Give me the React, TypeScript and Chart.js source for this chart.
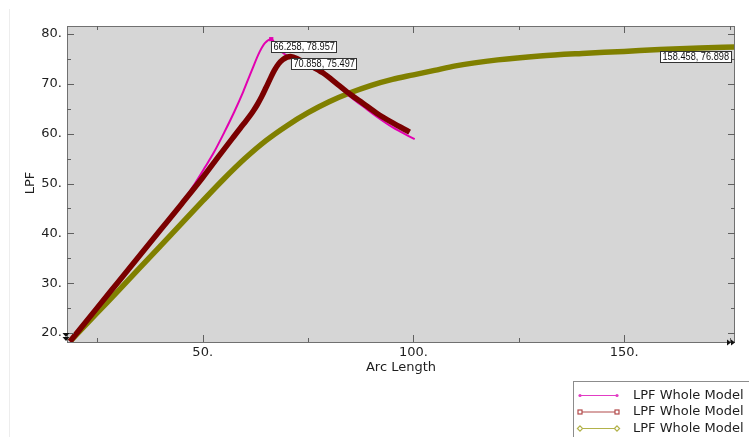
import { useEffect, useRef } from "react";
import { Chart, registerables } from "chart.js";

Chart.register(...registerables);

// ---------- data ----------
const seriesLabels = ["LPF Whole Model", "LPF Whole Model", "LPF Whole Model"];

const magentaX = [18.5, 25, 30, 35, 40, 45, 48, 50.5, 52.5, 55.2, 57.5, 59.6, 61.6, 63.5, 64.8, 66.258, 68, 70, 72.5, 75.5, 78.5, 82, 85, 88, 91.3, 95, 100.3];
const magentaY = [18.3, 25.1, 30.3, 35.5, 40.7, 46.0, 49.8, 53.2, 56.0, 60.4, 64.4, 68.4, 72.6, 76.4, 78.2, 78.957, 77.0, 75.6, 74.6, 73.3, 72.0, 69.7, 67.4, 65.5, 63.4, 61.3, 58.9];

const darkRedX = [18.5, 25, 30, 35, 40, 45, 50, 54, 57, 59, 60, 61, 62, 63, 64, 65, 66, 67, 68, 69, 70, 70.858, 73, 75.5, 78.5, 82, 85, 88, 91.3, 95, 99.1];
const darkRedY = [18.3, 25.1, 30.3, 35.5, 40.7, 45.9, 51.2, 55.7, 59.0, 61.2, 62.25, 63.35, 64.55, 65.9, 67.45, 69.2, 71.0, 72.7, 74.0, 74.85, 75.35, 75.497, 74.8, 73.7, 72.2, 69.9, 67.9, 66.1, 64.1, 62.2, 60.3];

const oliveX = [18.5, 25, 30, 35, 40, 45, 50, 55, 60, 65, 70, 75, 80, 85, 90, 95, 100, 105, 110, 120, 130, 140, 150, 158.458, 168, 176.3];
const oliveY = [18.3, 24.1, 28.5, 33.0, 37.5, 42.0, 46.5, 50.9, 55.0, 58.6, 61.6, 64.2, 66.4, 68.2, 69.7, 70.9, 71.8, 72.7, 73.6, 74.8, 75.6, 76.1, 76.5, 76.898, 77.2, 77.4];

const annotX = [66.258, 70.858, 158.458];
const annotY = [78.957, 75.497, 76.898];

const xMajorTicks = [50, 100, 150];
const xMinorTicks = [25, 75, 125, 175];
const yMajorTicks = [20, 30, 40, 50, 60, 70, 80];
const yMinorTicks = [25, 35, 45, 55, 65, 75];

const X_MIN = 17.8;
const X_MAX = 176.3;
const Y_MIN = 18.2;
const Y_MAX = 81.6;

const toPoints = (xs: number[], ys: number[]) => xs.map((x, i) => ({ x, y: ys[i] }));

const fmtNum = (v: number) => `${v}.`;

const decorPlugin = {
  id: "decor",
  beforeDraw(chart: any) {
    const { ctx, chartArea: a, width, height } = chart;
    ctx.save();
    ctx.fillStyle = "#ffffff";
    ctx.fillRect(0, 0, width, height);
    ctx.strokeStyle = "#ededed";
    ctx.lineWidth = 1;
    ctx.beginPath();
    ctx.moveTo(9.5, 9);
    ctx.lineTo(9.5, height);
    ctx.stroke();
    ctx.fillStyle = "#d6d6d6";
    ctx.fillRect(a.left, a.top, a.right - a.left, a.bottom - a.top);
    ctx.restore();
  },
  afterDatasetsDraw(chart: any) {
    const { ctx, chartArea: a } = chart;
    const xs = chart.scales.x;
    const ys = chart.scales.y;
    ctx.save();
    // frame
    ctx.strokeStyle = "#707070";
    ctx.lineWidth = 1;
    ctx.strokeRect(a.left + 0.5, a.top + 0.5, a.right - a.left - 1, a.bottom - a.top);
    // ticks
    ctx.strokeStyle = "#606060";
    ctx.beginPath();
    const xt = (v: number, len: number) => {
      const p = Math.round(xs.getPixelForValue(v)) + 0.5;
      ctx.moveTo(p, a.bottom);
      ctx.lineTo(p, a.bottom - len);
      ctx.moveTo(p, a.top);
      ctx.lineTo(p, a.top + len);
    };
    const yt = (v: number, len: number) => {
      const p = Math.round(ys.getPixelForValue(v)) + 0.5;
      ctx.moveTo(a.left, p);
      ctx.lineTo(a.left + len, p);
      ctx.moveTo(a.right, p);
      ctx.lineTo(a.right - len, p);
    };
    xMajorTicks.forEach((v) => xt(v, 7));
    xMinorTicks.forEach((v) => xt(v, 4));
    yMajorTicks.forEach((v) => yt(v, 7));
    yMinorTicks.forEach((v) => yt(v, 4));
    ctx.stroke();

    // axis end arrows
    ctx.fillStyle = "#111111";
    const tri = (pts: number[][]) => {
      ctx.beginPath();
      ctx.moveTo(pts[0][0], pts[0][1]);
      ctx.lineTo(pts[1][0], pts[1][1]);
      ctx.lineTo(pts[2][0], pts[2][1]);
      ctx.closePath();
      ctx.fill();
    };
    const lx = a.left - 1;
    tri([[lx - 3.5, a.bottom - 9], [lx + 3.5, a.bottom - 9], [lx, a.bottom - 5]]);
    tri([[lx - 3.5, a.bottom - 5], [lx + 3.5, a.bottom - 5], [lx, a.bottom - 1]]);
    const by = a.bottom + 0.5;
    tri([[a.right - 8, by - 3], [a.right - 8, by + 3], [a.right - 4, by]]);
    tri([[a.right - 4, by - 3], [a.right - 4, by + 3], [a.right, by]]);

    // annotations
    const sx = 0.92;
    ctx.font = "10px 'Liberation Sans', Arial, sans-serif";
    ctx.textBaseline = "middle";
    ctx.textAlign = "left";
    annotX.forEach((vx, i) => {
      const t = `${vx}, ${annotY[i]}`;
      const px = xs.getPixelForValue(vx);
      const py = ys.getPixelForValue(annotY[i]);
      const w = Math.round(ctx.measureText(t).width * sx + 4);
      const bx = Math.round(px) + 0.5;
      const byy = Math.round(py + 1.5) + 0.5;
      ctx.fillStyle = "#ffffff";
      ctx.fillRect(bx, byy, w, 11);
      ctx.strokeStyle = "#333333";
      ctx.strokeRect(bx, byy, w, 11);
      ctx.save();
      ctx.translate(bx + 2, byy + 6);
      ctx.scale(sx, 1);
      ctx.fillStyle = "#111111";
      ctx.fillText(t, 0, 0);
      ctx.restore();
    });

    // axis titles
    ctx.fillStyle = "#1e1e1e";
    ctx.font = "13px 'DejaVu Sans', sans-serif";
    ctx.textAlign = "center";
    ctx.textBaseline = "alphabetic";
    ctx.fillText("Arc Length", (a.left + a.right) / 2, 370.5);
    ctx.save();
    ctx.translate(33.5, (a.top + a.bottom) / 2 - 1);
    ctx.rotate(-Math.PI / 2);
    ctx.fillText("LPF", 0, 0);
    ctx.restore();

    // legend
    ctx.strokeStyle = "#8c8c8c";
    ctx.lineWidth = 1;
    ctx.strokeRect(573.5, 381.5, 220, 80);
    const legendColors = ["#e23cc4", "#b24a4a", "#b2b24a"];
    const legendY = [395, 411.5, 428];
    legendColors.forEach((c, i) => {
      const y = legendY[i] + 0.5;
      ctx.strokeStyle = c;
      ctx.lineWidth = 1.2;
      ctx.beginPath();
      ctx.moveTo(580, y);
      ctx.lineTo(617, y);
      ctx.stroke();
      [580, 617].forEach((mx) => {
        if (i === 0) {
          ctx.fillStyle = c;
          ctx.beginPath();
          ctx.arc(mx, y, 1.6, 0, Math.PI * 2);
          ctx.fill();
        } else if (i === 1) {
          ctx.fillStyle = "#ffffff";
          ctx.fillRect(mx - 2, y - 2, 4, 4);
          ctx.strokeRect(mx - 2, y - 2, 4, 4);
        } else {
          ctx.fillStyle = "#ffffff";
          ctx.beginPath();
          ctx.moveTo(mx, y - 2.6);
          ctx.lineTo(mx + 2.6, y);
          ctx.lineTo(mx, y + 2.6);
          ctx.lineTo(mx - 2.6, y);
          ctx.closePath();
          ctx.fill();
          ctx.stroke();
        }
      });
      ctx.fillStyle = "#1e1e1e";
      ctx.font = "13px 'DejaVu Sans', sans-serif";
      ctx.textAlign = "left";
      ctx.textBaseline = "middle";
      ctx.fillText(seriesLabels[i], 633, y);
    });
    ctx.restore();
  },
};

export default function App() {
  const ref = useRef<HTMLCanvasElement | null>(null);

  useEffect(() => {
    document.body.style.margin = "0";
    if (!ref.current) return;
    const peakIdx = magentaX.indexOf(annotX[0]);
    const chart = new Chart(ref.current, {
      type: "scatter",
      data: {
        datasets: [
          {
            label: seriesLabels[1],
            data: toPoints(darkRedX, darkRedY),
            showLine: true,
            borderColor: "#7a0000",
            backgroundColor: "#7a0000",
            borderWidth: 5.5,
            pointRadius: 0,
            cubicInterpolationMode: "monotone",
            order: 0,
          },
          {
            label: seriesLabels[0],
            data: toPoints(magentaX, magentaY),
            showLine: true,
            borderColor: "#e200b0",
            backgroundColor: "#e200b0",
            borderWidth: 2,
            pointStyle: "rect",
            pointRadius: magentaX.map((_, i) => (i === peakIdx ? 3 : 0)),
            pointBorderWidth: 0,
            cubicInterpolationMode: "monotone",
            order: 1,
          },
          {
            label: seriesLabels[2],
            data: toPoints(oliveX, oliveY),
            showLine: true,
            borderColor: "#808000",
            backgroundColor: "#808000",
            borderWidth: 5.5,
            pointRadius: 0,
            cubicInterpolationMode: "monotone",
            order: 2,
          },
        ],
      },
      options: {
        responsive: false,
        animation: false,
        layout: { padding: { left: 0, top: 26, right: 14, bottom: 0 } },
        plugins: { legend: { display: false }, tooltip: { enabled: false } },
        scales: {
          x: {
            type: "linear",
            min: X_MIN,
            max: X_MAX,
            grid: { display: false, drawTicks: false },
            border: { display: false },
            ticks: {
              stepSize: 50,
              includeBounds: false,
              maxRotation: 0,
              autoSkip: false,
              padding: 3,
              color: "#1e1e1e",
              font: { family: "'DejaVu Sans', sans-serif", size: 13 },
              callback: (v: any) => fmtNum(v),
            },
            afterFit: (s: any) => {
              s.height = 95;
            },
          },
          y: {
            type: "linear",
            min: Y_MIN,
            max: Y_MAX,
            grid: { display: false, drawTicks: false },
            border: { display: false },
            ticks: {
              stepSize: 10,
              includeBounds: false,
              autoSkip: false,
              padding: 5,
              color: "#1e1e1e",
              font: { family: "'DejaVu Sans', sans-serif", size: 13 },
              callback: (v: any) => fmtNum(v),
            },
            afterFit: (s: any) => {
              s.width = 67;
            },
          },
        },
      },
      plugins: [decorPlugin],
    });
    return () => chart.destroy();
  }, []);

  return (
    <div style={{ width: 749, height: 437 }}>
      <canvas ref={ref} width={749} height={437} style={{ display: "block" }} />
    </div>
  );
}
